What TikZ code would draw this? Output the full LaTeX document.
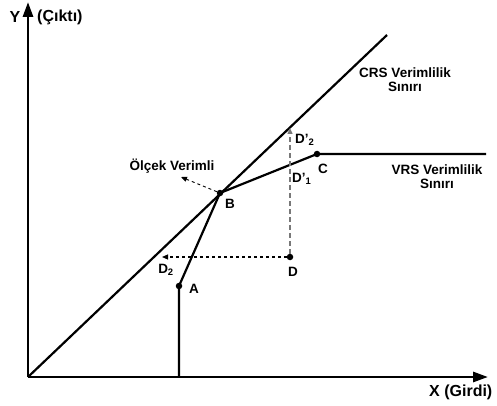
\documentclass[tikz,border=0pt]{standalone}
\usepackage{fontspec}
\setmainfont{Liberation Sans}
\usetikzlibrary{arrows.meta}
\definecolor{figK}{RGB}{0,0,0}
\definecolor{figD}{RGB}{120,120,120}

\begin{document}
\begin{tikzpicture}[x=1pt,y=-1pt,>={Triangle[length=6pt,width=5pt]},
  lbl/.style={font=\fontsize{13.5}{14}\selectfont\bfseries,inner sep=0pt,align=center},
  axlbl/.style={font=\fontsize{16}{17}\selectfont\bfseries,inner sep=0pt},
  frontier/.style={line width=2.2pt,figK},
  axisline/.style={line width=2.8pt,figK,>={Triangle[length=15pt,width=10pt]},->},
  pt/.style={circle,fill=figK,inner sep=0pt,minimum size=6.5pt}]
\useasboundingbox (0,0) rectangle (497,406);
% axes
\coordinate (o) at (28,377);
\coordinate (ytop) at (28,2);
\coordinate (xend) at (488,377);
\draw[axisline] (o)--(ytop);
\draw[axisline] (o)--(xend);
\node[axlbl] (ylbl) at (15,17) {Y};
\node[axlbl,anchor=west] (ytxt) at (37,17) {(Çıktı)};
\node[axlbl,anchor=west] (xlbl) at (429,392) {X (Girdi)};
% frontiers
\coordinate (crsend) at (387,35);
\coordinate (vrsend) at (486,154);
\coordinate (abase) at (179,377);
\node[pt] (A) at (179,286) {};
\node[pt] (B) at (220,193) {};
\node[pt] (C) at (317,154) {};
\node[pt] (D) at (290,257) {};
\draw[frontier] (o)--(crsend);
\draw[frontier] (abase)--(A.center)--(B.center)--(C.center)--(vrsend);
% projections
\coordinate (d2) at (162,257);
\coordinate (dp2) at (290,128);
\coordinate (sc) at (181,177);
\draw[->,dashed,line width=1.1pt] (D)--(d2);
\draw[->,line width=1.4pt,figD,dash pattern=on 5pt off 3pt] (D)--(dp2);
\draw[->,dashed,line width=0.9pt] (B)--(sc);
% labels
\node[lbl] (Alb) at (194,289) {A};
\node[lbl] (Blb) at (230,204) {B};
\node[lbl] (Clb) at (323,169) {C};
\node[lbl] (Dlb) at (293,272) {D};
\node[lbl] (D2lb) at (166,270) {D\textsubscript{2}};
\node[lbl,anchor=west] (Dp2lb) at (295,140) {D’\textsubscript{2}};
\node[lbl,anchor=west] (Dp1lb) at (292,179) {D’\textsubscript{1}};
\node[lbl] (sclb) at (172,166) {Ölçek Verimli};
\node[lbl] (crslb) at (405,80) {CRS Verimlilik\\Sınırı};
\node[lbl] (vrslb) at (437,177) {VRS Verimlilik\\Sınırı};
\end{tikzpicture}
\end{document}
